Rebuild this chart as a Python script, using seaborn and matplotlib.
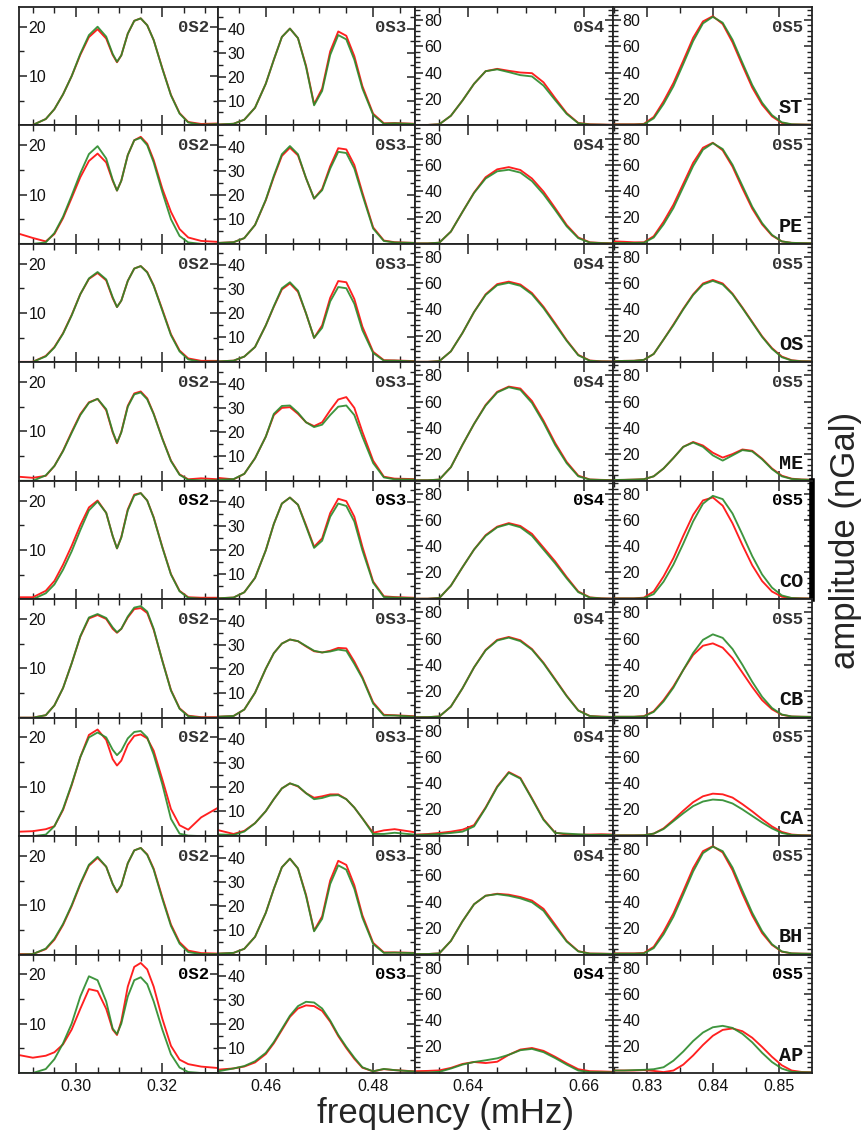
import seaborn as sns
import matplotlib.pyplot as plt

# === Stations (rows) and modes (columns)
stations = ["ST", "PE", "OS", "ME", "CO", "CB", "CA", "BH", "AP"]
modes = ["0S2", "0S3", "0S4", "0S5"]

# === Frequency samples (mHz) for each mode
freq_0S2 = [0.287, 0.290, 0.293, 0.295, 0.297, 0.299, 0.301, 0.303, 0.305, 0.307, 0.3085, 0.3095,
            0.3105, 0.312, 0.3135, 0.315, 0.3165, 0.318, 0.320, 0.322, 0.324, 0.326, 0.329, 0.333]
freq_0S3 = [0.4511, 0.454, 0.456, 0.458, 0.460, 0.4615, 0.463, 0.4645, 0.466, 0.4675, 0.469,
            0.4705, 0.472, 0.4735, 0.475, 0.4765, 0.478, 0.480, 0.482, 0.484, 0.4878]
freq_0S4 = [0.631, 0.633, 0.635, 0.637, 0.639, 0.641, 0.643, 0.645, 0.647, 0.649, 0.651,
            0.653, 0.655, 0.657, 0.659, 0.661, 0.663, 0.665]
freq_0S5 = [0.825, 0.8265, 0.828, 0.8295, 0.831, 0.8325, 0.834, 0.8355, 0.837, 0.8385, 0.840,
            0.8415, 0.843, 0.8445, 0.846, 0.8475, 0.849, 0.8505, 0.852, 0.8535, 0.855]

# === Amplitudes (nGal), one list per station, green and red spectra
amp_0S2_green = [
    [0, 0.1, 1.3, 3.3, 6.3, 10.0, 14.5, 18.3, 20.0, 18.0, 14.5, 12.9, 14.2, 18.6, 21.2, 21.7, 20.3, 17.3, 11.5, 6.1, 2.4, 0.6, 0.15, 0.3],
    [0, 0, 0.3, 2.2, 5.5, 9.8, 14.3, 18.2, 19.8, 17.3, 13.0, 10.8, 12.8, 18.0, 21.0, 21.5, 20.0, 16.5, 10.5, 5.0, 1.6, 0.3, 0, 0],
    [0, 0.1, 1.2, 3.0, 5.8, 9.5, 13.8, 17.0, 18.3, 16.8, 13.2, 11.2, 12.5, 16.5, 19.0, 19.5, 18.2, 15.5, 10.5, 5.5, 2.2, 0.6, 0.1, 0.2],
    [0, 0, 1.1, 3.0, 6.0, 9.7, 13.3, 15.8, 16.6, 14.5, 10.0, 7.7, 9.8, 15.0, 17.5, 17.9, 16.5, 13.5, 8.5, 4.0, 1.2, 0.2, 0.1, 0.1],
    [0, 0, 1.2, 3.0, 6.0, 9.7, 14.0, 18.0, 19.8, 17.5, 12.8, 10.3, 12.5, 18.0, 21.0, 21.5, 20.0, 16.5, 10.5, 5.0, 1.6, 0.3, 0.1, 0.1],
    [0, 0, 0.5, 2.5, 6.0, 11.0, 16.5, 20.3, 21.0, 20.2, 18.3, 17.3, 18.0, 20.5, 22.3, 22.6, 21.5, 18.0, 11.5, 5.5, 1.8, 0.3, 0, 0],
    [0, 0, 0.3, 2.0, 5.5, 10.5, 16.0, 20.0, 21.0, 20.0, 17.5, 16.4, 17.3, 19.8, 21.1, 21.3, 20.0, 16.5, 10.5, 3.5, 0.5, 0.1, 0, 0],
    [0, 0.1, 1.2, 3.2, 6.2, 10.0, 14.4, 18.2, 19.8, 17.8, 14.3, 12.7, 14.0, 18.5, 21.1, 21.6, 20.2, 17.2, 11.3, 5.8, 2.2, 0.5, 0.1, 0.1],
    [0, 0, 0.8, 2.8, 6.0, 10.0, 15.5, 19.6, 18.8, 14.5, 9.0, 7.9, 10.0, 15.5, 18.8, 19.4, 18.0, 14.5, 8.8, 3.8, 1.1, 0.2, 0, 0],
]
amp_0S2_red = [
    [0, 0.1, 1.3, 3.3, 6.3, 10.0, 14.3, 17.9, 19.5, 17.6, 14.3, 12.8, 14.2, 18.6, 21.2, 21.7, 20.3, 17.3, 11.6, 6.2, 2.5, 0.7, 0.3, 0.4],
    [2.0, 1.2, 0.5, 2.0, 5.2, 9.3, 13.5, 16.8, 18.3, 16.5, 12.8, 10.8, 12.8, 18.0, 21.0, 21.7, 20.3, 17.0, 11.2, 6.5, 3.0, 1.3, 0.6, 0.4],
    [0.1, 0.1, 1.3, 3.1, 5.9, 9.6, 13.8, 16.9, 18.1, 16.6, 13.0, 11.2, 12.5, 16.5, 19.0, 19.5, 18.3, 15.6, 10.7, 5.7, 2.4, 0.8, 0.3, 0.3],
    [0.8, 0.6, 1.0, 3.0, 6.1, 9.9, 13.5, 15.9, 16.6, 14.3, 9.8, 7.6, 9.9, 15.2, 17.7, 18.1, 16.7, 13.6, 8.6, 4.1, 1.3, 0.3, 0.5, 0.3],
    [0.4, 0.4, 1.7, 3.7, 7.0, 10.8, 15.0, 18.6, 20.0, 17.5, 12.8, 10.3, 12.6, 18.2, 21.2, 21.5, 20.0, 16.6, 10.6, 5.1, 1.7, 0.4, 0.3, 0.3],
    [0, 0, 0.5, 2.5, 6.0, 11.0, 16.4, 20.1, 20.8, 20.0, 18.0, 17.2, 18.0, 20.3, 22.0, 22.2, 21.2, 17.8, 11.6, 5.6, 1.9, 0.4, 0.1, 0.1],
    [0.9, 1.0, 1.4, 2.0, 5.3, 10.3, 16.0, 20.5, 21.6, 19.5, 15.6, 14.3, 15.3, 18.5, 20.3, 20.6, 19.8, 17.3, 11.5, 5.5, 2.2, 1.3, 3.8, 5.8],
    [0.1, 0.1, 1.1, 3.0, 6.0, 9.8, 14.2, 18.0, 19.6, 17.8, 14.3, 12.6, 14.0, 18.5, 21.1, 21.6, 20.3, 17.4, 11.6, 6.1, 2.5, 0.8, 0.3, 0.2],
    [3.6, 3.1, 3.5, 4.2, 5.8, 8.8, 13.0, 17.0, 16.6, 13.0, 8.8, 7.7, 10.5, 17.5, 21.5, 22.3, 21.0, 17.5, 11.0, 5.5, 2.7, 1.8, 1.3, 1.0],
]
amp_0S3_green = [
    [0, 0.3, 2, 7, 17, 27, 36.5, 40, 36, 24, 8, 14, 29, 37.3, 35.5, 27, 15, 4, 0.3, 0.5, 0.2],
    [0, 0.3, 2, 7.5, 18, 28, 37, 40.4, 37, 27, 18.5, 22, 31, 38, 37.5, 31, 20, 6, 0.8, 0.2, 0],
    [0, 0.3, 2, 6, 15, 23, 30.5, 33, 29.5, 20, 9.8, 14, 25, 31, 30.5, 24, 13, 3.5, 0.3, 0.3, 0],
    [0, 0.3, 2.5, 9, 18, 27.5, 30.8, 31, 28, 24, 22, 23, 27, 30.5, 31, 27, 18, 7, 1, 0.2, 0.1],
    [0, 0.3, 2.5, 8.5, 20, 31, 39.5, 42, 39, 30, 21, 24, 34, 39.5, 38.5, 32, 20, 6.5, 0.5, 0.3, 0],
    [0, 0.3, 3, 10, 20, 26.5, 30.5, 32.2, 31.5, 29.5, 27.5, 26.8, 27.2, 28, 27.5, 22, 16, 5.5, 0.5, 0.5, 0],
    [0.3, 0.1, 1.5, 5, 10, 15, 19.5, 21.6, 20.5, 17.5, 15, 15.5, 16.5, 16.7, 15, 11.5, 7, 0.5, 0.5, 1.0, 0.2],
    [0, 0.3, 2, 7, 17, 27, 36, 39.6, 35.5, 24, 9.3, 14.5, 29, 36.8, 35, 27, 15, 4, 0.3, 0.4, 0.2],
    [0.3, 1.5, 2.5, 4.5, 8, 12.5, 18, 23.5, 27.5, 29.3, 29, 26.5, 21.5, 15.5, 10.5, 6, 2, 0.3, 1.3, 0.8, 0.2],
]
amp_0S3_red = [
    [0, 0.3, 2, 7, 17, 27, 36.5, 40, 36, 24.5, 8.5, 15, 30.5, 38.8, 37, 28.5, 16, 4.5, 0.5, 0.6, 0.3],
    [0, 0.3, 2, 7.5, 17.8, 27.5, 36.3, 39.7, 36.5, 27, 18.5, 22.5, 32, 39.5, 39, 32.5, 21, 6.5, 1, 0.3, 0],
    [0, 0.3, 2, 6, 15, 22.8, 30, 32.5, 29, 20, 9.8, 15, 26.5, 33.5, 33, 26, 14.5, 4, 0.5, 0.4, 0.1],
    [0.8, 0.2, 2.5, 9, 18, 27, 30, 30.3, 27.5, 24, 22.4, 24, 29, 33.5, 34.5, 30, 20, 8, 1.3, 0.5, 0.3],
    [0, 0.3, 2.5, 8.5, 20, 31, 39.5, 42, 39, 30.5, 21.5, 25, 35.5, 41.5, 40.5, 34, 21.5, 7, 0.8, 0.5, 0.2],
    [0, 0.3, 3, 10, 20, 26.5, 30.5, 32.2, 31.5, 29.3, 27.3, 26.8, 27.5, 28.7, 28.5, 23, 16.5, 6, 0.8, 0.6, 0.2],
    [2.1, 0.5, 1.8, 5, 10, 15, 19.5, 21.6, 20.3, 17.5, 15.6, 16.2, 17, 17, 15, 11.5, 7, 1, 2, 2.5, 1.2],
    [0, 0.3, 2, 7, 17, 27, 36, 39.6, 35.5, 24.5, 9.6, 15.5, 30.5, 38.7, 37, 28.5, 16, 4.5, 0.5, 0.5, 0.3],
    [1.0, 1.5, 2.3, 4, 7.5, 12, 17.5, 23, 26.5, 27.8, 27.5, 25.5, 21, 15, 10, 5.5, 1.8, 0.3, 1.2, 0.8, 0.3],
]
amp_0S4_green = [
    [0, 0, 0.5, 7, 18.6, 31.4, 41, 42.4, 40.3, 38, 37, 30, 19, 8.4, 1.3, 0.3, 0.2, 0],
    [0, 0, 0.5, 9, 24, 38.5, 49.5, 55, 56.2, 54, 47.5, 37.5, 25.5, 13, 4, 0.6, 0.2, 0],
    [0, 0, 0.5, 8, 22, 38, 51, 58.5, 60.3, 58, 51.5, 41, 28.5, 16, 5, 0.8, 0.3, 0.2],
    [0, 0, 0.5, 10, 27, 43, 57, 67, 71, 69, 59, 44, 27, 13, 3, 0.5, 0.2, 0],
    [0, 0, 0.5, 10, 24, 37.5, 48, 54.5, 57, 54.5, 48, 37.5, 27, 15.5, 5, 0.8, 0.2, 0],
    [0, 0, 0.5, 8, 22, 38, 51, 58.5, 60.7, 58, 51.5, 41, 28.5, 16, 5, 0.8, 0.3, 0.1],
    [0.5, 0.8, 1.2, 2, 3, 7, 21, 37, 48, 43.5, 28, 12, 2, 1.5, 1, 0.5, 0.6, 0.5],
    [0, 0, 0.5, 10, 25, 38, 44.5, 45.7, 44.5, 42.5, 39.5, 33, 21, 9.5, 2, 0.3, 0.2, 0.1],
    [0, 0, 0.5, 3, 6, 8, 9.3, 10.8, 13.5, 17, 18, 15.5, 11, 6, 1.5, 0.3, 0.2, 0.1],
]
amp_0S4_red = [
    [0, 0, 0.5, 7, 18.6, 31.4, 41, 42.8, 41.3, 40, 39.5, 32.5, 20.5, 9, 1.5, 0.5, 0.3, 0.1],
    [0, 0, 0.5, 9, 24, 38.8, 50.5, 56.5, 58.2, 56, 49.5, 39.5, 27, 14, 4.5, 0.8, 0.3, 0.1],
    [0, 0, 0.5, 8, 22, 38, 51.5, 59.3, 61.2, 59, 52.5, 42, 29.5, 16.5, 5.3, 1, 0.4, 0.3],
    [0, 0, 0.5, 10, 27, 43, 57.5, 67.5, 71.5, 70, 60.5, 45.5, 28.5, 14, 3.5, 0.6, 0.3, 0.1],
    [0, 0, 0.5, 10, 24, 37.5, 48.5, 55, 57.7, 55.5, 49.5, 39, 28.5, 16.5, 5.5, 1, 0.3, 0.1],
    [0, 0, 0.5, 8, 22, 38, 51.3, 59, 61.2, 58.7, 52, 41.5, 29, 16.3, 5.2, 0.9, 0.4, 0.2],
    [0.8, 1.2, 2, 3, 4.5, 8, 21.5, 37.5, 48.5, 44, 28.5, 12.5, 2.2, 0.8, 0.6, 0.8, 1.0, 0.8],
    [0, 0, 0.5, 10, 25, 38, 44.5, 46, 45.3, 43.5, 40.8, 34.5, 22.5, 10, 2.2, 0.4, 0.3, 0.1],
    [1.0, 1.2, 1.6, 3.5, 6.5, 8, 7.2, 8.2, 13.5, 17.5, 18.7, 16.5, 12, 7, 2.5, 1, 0.8, 0.5],
]
amp_0S5_green = [
    [0.3, 0.3, 0.3, 0.5, 5, 16, 29.5, 46.5, 64, 77.5, 82.5, 78, 65, 47.5, 30.5, 17, 7.5, 2, 0.5, 0.3, 0.2],
    [0.3, 0.3, 0.3, 0.5, 4.5, 14.5, 27, 43, 59, 71.5, 76.5, 72, 60, 44, 28, 15.5, 6.5, 1.5, 0.4, 0.2, 0.1],
    [0.5, 0.7, 0.8, 1.5, 6, 17, 28, 40, 51, 59, 61.8, 59, 51.5, 41, 30, 19, 10, 3.5, 1, 0.4, 0.3],
    [0.2, 0.3, 0.5, 0.8, 3, 9, 17, 25.5, 28.8, 25.5, 19, 15, 19, 23, 22, 16, 8.5, 3, 1, 0.5, 0.3],
    [0.2, 0.2, 0.2, 0.4, 3.5, 13, 26, 42, 59, 72.5, 78.5, 76, 65, 49, 32.5, 18.5, 8.5, 2.5, 0.5, 0.2, 0.1],
    [0.3, 0.3, 0.3, 0.6, 4, 12, 22.5, 36, 49, 59, 63.2, 60.5, 52, 40, 27, 15.5, 7, 2, 0.5, 0.3, 0.2],
    [0.2, 0.2, 0.2, 0.3, 1.5, 5, 11, 17, 22.5, 26, 27.5, 27, 24.5, 20, 15, 10, 5.5, 2, 0.5, 0.2, 0.1],
    [0.3, 0.3, 0.3, 0.5, 4.5, 15, 28.5, 45.5, 63, 77, 82, 78.5, 66, 48.5, 31.5, 17.5, 7.5, 2, 0.5, 0.3, 0.2],
    [1.5, 1.5, 1.8, 2, 2.5, 4, 9, 16, 24, 30.5, 34.5, 35.6, 34, 29.5, 23, 15, 8, 3, 0.5, 0.2, 0.1],
]
amp_0S5_red = [
    [0.5, 0.5, 0.5, 0.8, 6, 18, 32, 49, 66.5, 79, 83, 77, 63, 45.5, 28.5, 15.5, 6.5, 1.5, 0.4, 0.3, 0.2],
    [1.5, 1.2, 0.8, 0.8, 5.5, 16.5, 29.5, 45.5, 61.5, 73, 76.8, 71, 58.5, 42, 26.5, 14.5, 6, 1.5, 0.4, 0.2, 0.1],
    [0.5, 0.7, 0.8, 1.5, 6, 17, 28.5, 40.5, 51.5, 59.8, 62.5, 59.8, 52, 41.5, 30.5, 19.5, 10.5, 4, 1.2, 0.5, 0.4],
    [0.2, 0.3, 0.5, 0.8, 3, 9, 17, 25.5, 29.2, 26.5, 21, 17.3, 20, 23.5, 22.5, 16.5, 9, 3.5, 1.2, 0.6, 0.4],
    [0.3, 0.3, 0.3, 0.8, 5.5, 17, 31, 48, 64, 75, 77.3, 71, 57.5, 41, 25.5, 13.5, 5.5, 1.5, 0.5, 0.3, 0.2],
    [0.3, 0.3, 0.3, 0.8, 4.5, 13, 23.5, 36, 47.5, 54.5, 56.3, 53, 45, 34, 23, 13, 6, 1.8, 0.5, 0.3, 0.2],
    [0.2, 0.2, 0.2, 0.3, 1.5, 5.5, 12, 19, 25.5, 30, 32, 31.5, 29, 24, 18.5, 12.5, 7, 2.8, 0.8, 0.3, 0.2],
    [0.5, 0.5, 0.5, 0.8, 5.5, 17, 31, 48, 65.5, 78.5, 82.3, 77.5, 64, 46, 29.5, 16, 7, 1.8, 0.5, 0.3, 0.2],
    [1.5, 1.5, 1.5, 1.8, 1.2, 0.3, 1.5, 6, 13, 21, 28, 32.5, 33.6, 31.5, 26.5, 19.5, 12, 5.5, 1.5, 0.4, 0.2],
]

# === Axis settings per mode column
xlims = [(0.2868, 0.3329), (0.4511, 0.4878), (0.6308, 0.6650), (0.8248, 0.8551)]
ylims = [(0, 24), (-0.4, 49), (-0.4, 90), (-0.4, 90)]
xmajor = [[0.30, 0.32], [0.46, 0.48], [0.64, 0.66], [0.83, 0.84, 0.85]]
xmajor_lbl = [["0.30", "0.32"], ["0.46", "0.48"], ["0.64", "0.66"], ["0.83", "0.84", "0.85"]]
xminor = [[0.29, 0.295, 0.305, 0.31, 0.315, 0.325, 0.33],
          [0.455, 0.465, 0.47, 0.475, 0.485],
          [0.635, 0.645, 0.65, 0.655],
          [0.825, 0.835, 0.845]]
ymajor = [[10, 20], [10, 20, 30, 40], [20, 40, 60, 80], [20, 40, 60, 80]]
yminor = [[5, 15], [5, 15, 25, 35, 45],
          [v for v in range(4, 90, 4) if v % 20], [v for v in range(4, 90, 4) if v % 20]]

freqs = [freq_0S2, freq_0S3, freq_0S4, freq_0S5]
greens = [amp_0S2_green, amp_0S3_green, amp_0S4_green, amp_0S5_green]
reds = [amp_0S2_red, amp_0S3_red, amp_0S4_red, amp_0S5_red]

sns.set_style("ticks")
plt.rcParams['font.family'] = ['Liberation Sans', 'DejaVu Sans']

GREEN = "#2a8a2a"
RED = "#ff2020"
EDGE = "#222222"

fig = plt.figure(figsize=(8.65, 11.34), dpi=100)
gs = fig.add_gridspec(9, 4, left=19 / 865, right=812 / 865, top=1 - 7 / 1134, bottom=1 - 1073 / 1134,
                      wspace=0, hspace=0, width_ratios=[199, 197, 198, 199])

for i, st in enumerate(stations):
    for j, mode in enumerate(modes):
        ax = fig.add_subplot(gs[i, j])
        sns.lineplot(x=freqs[j], y=reds[j][i], ax=ax, color=RED, lw=1.35, estimator=None, sort=False,
                     solid_joinstyle="round")
        sns.lineplot(x=freqs[j], y=greens[j][i], ax=ax, color=GREEN, lw=1.35, alpha=0.9,
                     estimator=None, sort=False, solid_joinstyle="round")
        ax.set_xlim(*xlims[j])
        ax.set_ylim(*ylims[j])
        ax.set_xlabel("")
        ax.set_ylabel("")

        ax.set_xticks(xmajor[j])
        ax.set_xticks(xminor[j], minor=True)
        ax.set_yticks(ymajor[j])
        ax.set_yticks(yminor[j], minor=True)
        ax.set_yticklabels([str(v) for v in ymajor[j]])
        if i == len(stations) - 1:
            ax.set_xticklabels(xmajor_lbl[j])
        else:
            ax.set_xticklabels([])

        ax.tick_params(which="both", direction="in", top=True, right=True, color=EDGE,
                       labelcolor="#111111", labelsize=11.5)
        ax.tick_params(axis="x", which="major", length=7, width=1.1, pad=4)
        ax.tick_params(axis="x", which="minor", length=4.5, width=1.0)
        ax.tick_params(axis="y", which="major", length=6, width=1.1, pad=-7)
        ax.tick_params(axis="y", which="minor", length=3.8, width=1.0)
        for lab in ax.get_yticklabels():
            lab.set_horizontalalignment("left")

        for sp in ax.spines.values():
            sp.set_visible(True)
            sp.set_linewidth(1.3)
            sp.set_color(EDGE)
        if st == "CO" and j == 3:
            ax.spines["right"].set_linewidth(4)
            ax.spines["right"].set_color("black")

        strong = st in ("CO", "AP")
        ax.text(0.955, 0.83, mode, transform=ax.transAxes, ha="right", va="center",
                family="Liberation Mono", weight="bold", size=12.5,
                color="black" if strong else "#333333")
        if j == 3:
            ax.text(0.955, 0.15, st, transform=ax.transAxes, ha="right", va="center",
                    family="Liberation Mono", weight="bold", size=14.5, color="#111111")

fig.text(446 / 865, 1 - 1114 / 1134, "frequency (mHz)", ha="center", va="center", size=25)
fig.text(845 / 865, 1 - 540 / 1134, "amplitude (nGal)", ha="center", va="center", size=25, rotation=90)

plt.savefig("out.png", dpi=100)
